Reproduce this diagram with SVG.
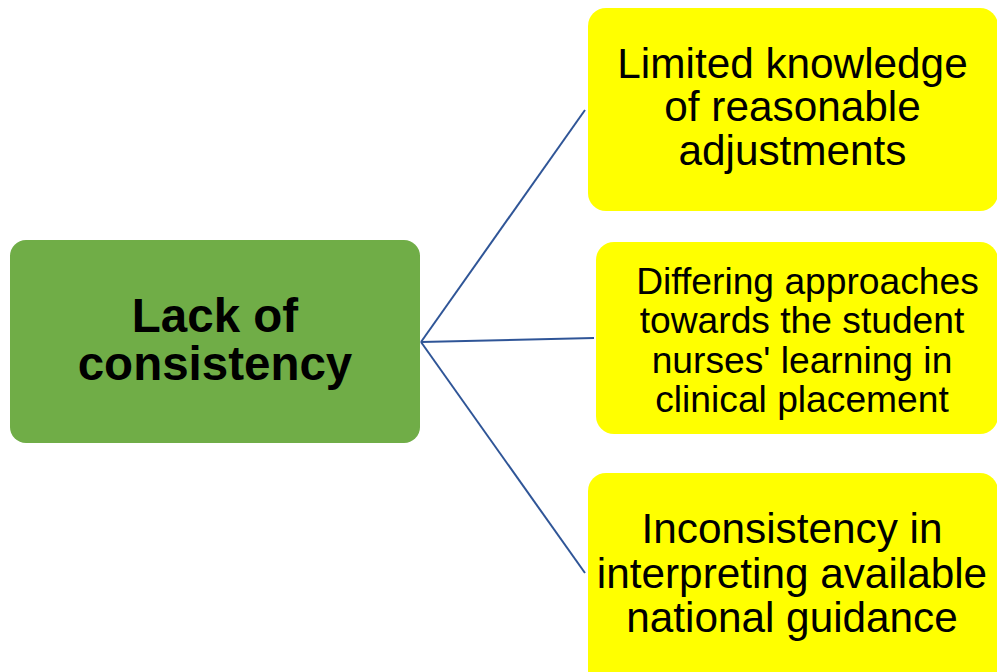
<svg xmlns="http://www.w3.org/2000/svg" width="997" height="672" viewBox="0 0 997 672">
<style>
.g{fill:#70AD47}
.y{fill:#FFFF00}
.t{font-family:"Liberation Sans",Arial,sans-serif;fill:#000;text-anchor:middle}
.c{stroke:#2F5597;stroke-width:2;fill:none}
</style>
<rect width="997" height="672" fill="#fff"/>
<g id="connectors">
<line class="c" x1="421" y1="342" x2="585" y2="110"/>
<line class="c" x1="421" y1="342" x2="594" y2="338"/>
<line class="c" x1="421" y1="342" x2="585" y2="573"/>
</g>
<g id="node-center">
<rect class="g" x="10" y="240" width="410" height="203" rx="16"/>
<text class="t" font-size="47.5" font-weight="bold"><tspan x="215" y="332">Lack of</tspan><tspan x="215" y="380">consistency</tspan></text>
</g>
<g id="node-top">
<rect class="y" x="588" y="8" width="410" height="203" rx="18"/>
<text class="t" font-size="42.3"><tspan x="792.5" y="78">Limited knowledge</tspan><tspan x="792.5" y="121">of reasonable</tspan><tspan x="792.5" y="165">adjustments</tspan></text>
</g>
<g id="node-middle">
<rect class="y" x="596" y="242" width="402" height="192" rx="18"/>
<text class="t" font-size="37.2"><tspan x="807.5" y="294">Differing approaches</tspan><tspan x="802" y="333">towards the student</tspan><tspan x="802" y="373">nurses' learning in</tspan><tspan x="802" y="412">clinical placement</tspan></text>
</g>
<g id="node-bottom">
<rect class="y" x="588" y="473" width="410" height="215" rx="18"/>
<text class="t" font-size="42.3"><tspan x="792" y="543">Inconsistency in</tspan><tspan x="792" y="588">interpreting available</tspan><tspan x="792" y="632">national guidance</tspan></text>
</g>
</svg>
